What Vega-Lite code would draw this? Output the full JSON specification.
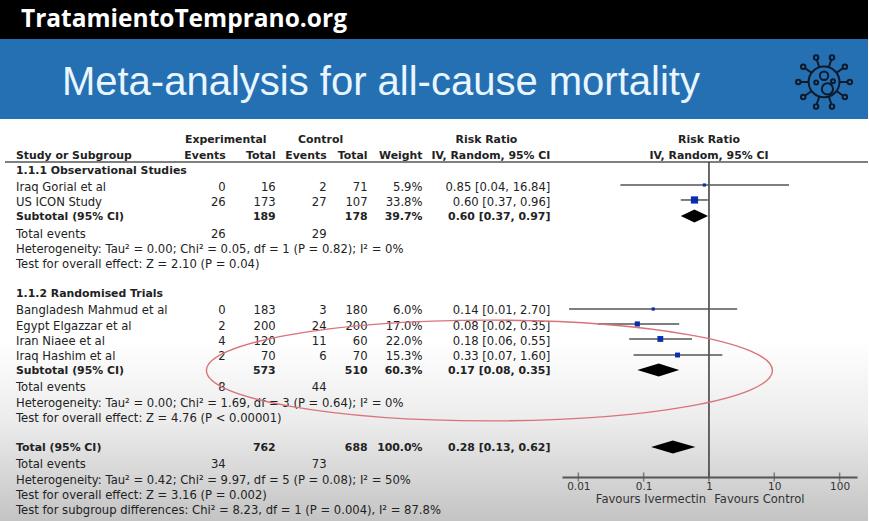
{
"$schema":"https://vega.github.io/schema/vega-lite/v6.json",
"width":869,"height":521,"padding":0,
"autosize":{"type":"fit","contains":"padding"},
"background":"white",
"config":{"view":{"stroke":null},"text":{"font":"DejaVu Sans","fontSize":11.6,"color":"#222","dy":1}},
"datasets":{
"rows":[
{"row":-0.96,"label":"Study or Subgroup","ev_e":"Events","tot_e":"Total","ev_c":"Events","tot_c":"Total","weight":"Weight","rr":"IV, Random, 95% CI","bold":true},
{"row":0,"label":"1.1.1 Observational Studies","ev_e":"","tot_e":"","ev_c":"","tot_c":"","weight":"","rr":"","bold":true},
{"row":1.09,"label":"Iraq Gorial et al","ev_e":"0","tot_e":"16","ev_c":"2","tot_c":"71","weight":"5.9%","rr":"0.85 [0.04, 16.84]","bold":false},
{"row":2.05,"label":"US ICON Study","ev_e":"26","tot_e":"173","ev_c":"27","tot_c":"107","weight":"33.8%","rr":"0.60 [0.37, 0.96]","bold":false},
{"row":2.95,"label":"Subtotal (95% CI)","ev_e":"","tot_e":"189","ev_c":"","tot_c":"178","weight":"39.7%","rr":"0.60 [0.37, 0.97]","bold":true},
{"row":4.07,"label":"Total events","ev_e":"26","tot_e":"","ev_c":"29","tot_c":"","weight":"","rr":"","bold":false},
{"row":5.06,"label":"Heterogeneity: Tau² = 0.00; Chi² = 0.05, df = 1 (P = 0.82); I² = 0%","ev_e":"","tot_e":"","ev_c":"","tot_c":"","weight":"","rr":"","bold":false},
{"row":6.03,"label":"Test for overall effect: Z = 2.10 (P = 0.04)","ev_e":"","tot_e":"","ev_c":"","tot_c":"","weight":"","rr":"","bold":false},
{"row":7.88,"label":"1.1.2 Randomised Trials","ev_e":"","tot_e":"","ev_c":"","tot_c":"","weight":"","rr":"","bold":true},
{"row":8.97,"label":"Bangladesh Mahmud et al","ev_e":"0","tot_e":"183","ev_c":"3","tot_c":"180","weight":"6.0%","rr":"0.14 [0.01, 2.70]","bold":false},
{"row":9.97,"label":"Egypt Elgazzar et al","ev_e":"2","tot_e":"200","ev_c":"24","tot_c":"200","weight":"17.0%","rr":"0.08 [0.02, 0.35]","bold":false},
{"row":10.96,"label":"Iran Niaee et al","ev_e":"4","tot_e":"120","ev_c":"11","tot_c":"60","weight":"22.0%","rr":"0.18 [0.06, 0.55]","bold":false},
{"row":11.92,"label":"Iraq Hashim et al","ev_e":"2","tot_e":"70","ev_c":"6","tot_c":"70","weight":"15.3%","rr":"0.33 [0.07, 1.60]","bold":false},
{"row":12.79,"label":"Subtotal (95% CI)","ev_e":"","tot_e":"573","ev_c":"","tot_c":"510","weight":"60.3%","rr":"0.17 [0.08, 0.35]","bold":true},
{"row":13.91,"label":"Total events","ev_e":"8","tot_e":"","ev_c":"44","tot_c":"","weight":"","rr":"","bold":false},
{"row":14.94,"label":"Heterogeneity: Tau² = 0.00; Chi² = 1.69, df = 3 (P = 0.64); I² = 0%","ev_e":"","tot_e":"","ev_c":"","tot_c":"","weight":"","rr":"","bold":false},
{"row":15.9,"label":"Test for overall effect: Z = 4.76 (P < 0.00001)","ev_e":"","tot_e":"","ev_c":"","tot_c":"","weight":"","rr":"","bold":false},
{"row":17.76,"label":"Total (95% CI)","ev_e":"","tot_e":"762","ev_c":"","tot_c":"688","weight":"100.0%","rr":"0.28 [0.13, 0.62]","bold":true},
{"row":18.85,"label":"Total events","ev_e":"34","tot_e":"","ev_c":"73","tot_c":"","weight":"","rr":"","bold":false},
{"row":19.87,"label":"Heterogeneity: Tau² = 0.42; Chi² = 9.97, df = 5 (P = 0.08); I² = 50%","ev_e":"","tot_e":"","ev_c":"","tot_c":"","weight":"","rr":"","bold":false},
{"row":20.83,"label":"Test for overall effect: Z = 3.16 (P = 0.002)","ev_e":"","tot_e":"","ev_c":"","tot_c":"","weight":"","rr":"","bold":false},
{"row":21.79,"label":"Test for subgroup differences: Chi² = 8.23, df = 1 (P = 0.004), I² = 87.8%","ev_e":"","tot_e":"","ev_c":"","tot_c":"","weight":"","rr":"","bold":false}
],
"studies":[
{"study":"Iraq Gorial et al","row":0.96,"est":0.85,"lo":0.044,"hi":16.84,"wt":5.9},
{"study":"US ICON Study","row":1.92,"est":0.60,"lo":0.37,"hi":0.96,"wt":33.8},
{"study":"Bangladesh Mahmud et al","row":8.91,"est":0.14,"lo":0.0072,"hi":2.70,"wt":6.0},
{"study":"Egypt Elgazzar et al","row":9.87,"est":0.08,"lo":0.02,"hi":0.35,"wt":17.0},
{"study":"Iran Niaee et al","row":10.83,"est":0.18,"lo":0.06,"hi":0.55,"wt":22.0},
{"study":"Iraq Hashim et al","row":11.86,"est":0.33,"lo":0.07,"hi":1.60,"wt":15.3}
],
"diamonds":[
{"group":"Observational","rr":0.37,"top":2.95,"bottom":2.95},
{"group":"Observational","rr":0.60,"top":2.53,"bottom":3.37},
{"group":"Observational","rr":0.97,"top":2.95,"bottom":2.95},
{"group":"Randomised","rr":0.08,"top":12.82,"bottom":12.82},
{"group":"Randomised","rr":0.17,"top":12.4,"bottom":13.24},
{"group":"Randomised","rr":0.35,"top":12.82,"bottom":12.82},
{"group":"Total","rr":0.13,"top":17.76,"bottom":17.76},
{"group":"Total","rr":0.28,"top":17.34,"bottom":18.18},
{"group":"Total","rr":0.62,"top":17.76,"bottom":17.76}
],
"axisTicks":[{"rr":0.01},{"rr":0.1},{"rr":1},{"rr":10},{"rr":100}]
},
"layer":[
{"layer":[
{"data":{"values":[{"a":1}]},"mark":{"type":"rect","color":{"gradient":"linear","x1":0,"y1":0,"x2":0,"y2":1,"stops":[{"offset":0,"color":"#ffffff"},{"offset":0.55,"color":"#ffffff"},{"offset":0.75,"color":"#ececec"},{"offset":1,"color":"#c4c4c4"}]}},
"encoding":{"x":{"datum":0,"type":"quantitative","scale":{"domain":[0,869]},"axis":null},"x2":{"datum":869},"y":{"datum":-3.2,"type":"quantitative","scale":{"domain":[-10.9,22.5],"reverse":true},"axis":null},"y2":{"datum":22.5}}},
{"data":{"values":[{"a":1}]},"mark":{"type":"rect","color":"#000000"},
"encoding":{"x":{"datum":0,"type":"quantitative","scale":{"domain":[0,869]},"axis":null},"x2":{"datum":869},"y":{"datum":-10.9,"type":"quantitative","scale":{"domain":[-10.9,22.5],"reverse":true},"axis":null},"y2":{"datum":-8.40}}},
{"data":{"values":[{"a":1}]},"mark":{"type":"rect","color":"#2470b3"},
"encoding":{"x":{"datum":0,"type":"quantitative","scale":{"domain":[0,869]},"axis":null},"x2":{"datum":869},"y":{"datum":-8.40,"type":"quantitative","scale":{"domain":[-10.9,22.5],"reverse":true},"axis":null},"y2":{"datum":-3.27}}},
{"data":{"values":[{"a":1}]},"mark":{"type":"rule","color":"#555555","strokeWidth":1.5},
"encoding":{"x":{"datum":5,"type":"quantitative","scale":{"domain":[0,869]},"axis":null},"x2":{"datum":869},"y":{"datum":-0.51,"type":"quantitative","scale":{"domain":[-10.9,22.5],"reverse":true},"axis":null}}}
]},
{"layer":[
{"data":{"values":[{"a":1}]},"mark":{"type":"rule","color":"#444444","strokeWidth":1.6},
"encoding":{"x":{"datum":1,"type":"quantitative","scale":{"type":"log","domain":[0.00562,184.7],"range":[562,857],"nice":false},"axis":{"values":[0.01,0.1,1,10,100],"format":"~g","orient":"bottom","offset":-44,"title":null,"grid":false,"zindex":1,"ticks":false,"labelFont":"DejaVu Sans","labelFontSize":10.5,"labelColor":"#333333","labelPadding":4,"domainColor":"#555555","domainWidth":2}},"y":{"datum":-0.51,"type":"quantitative","scale":{"domain":[-10.9,22.5],"reverse":true},"axis":null},"y2":{"datum":19.68}}},
{"data":{"name":"axisTicks"},"mark":{"type":"tick","orient":"vertical","color":"#555555","size":9,"thickness":1.5},
"encoding":{"x":{"field":"rr","type":"quantitative"},"y":{"datum":19.68,"type":"quantitative","scale":{"domain":[-10.9,22.5],"reverse":true},"axis":null}}},
{"data":{"name":"studies"},"mark":{"type":"rule","color":"#555555","strokeWidth":1.5},
"encoding":{"x":{"field":"lo","type":"quantitative"},"x2":{"field":"hi"},"y":{"field":"row","type":"quantitative","scale":{"domain":[-10.9,22.5],"reverse":true},"axis":null}}},
{"data":{"name":"studies"},"mark":{"type":"point","shape":"square","filled":true,"color":"#0a2db0","opacity":1},
"encoding":{"x":{"field":"est","type":"quantitative"},"y":{"field":"row","type":"quantitative","scale":{"domain":[-10.9,22.5],"reverse":true},"axis":null},"size":{"field":"wt","type":"quantitative","scale":{"domain":[5.9,33.8],"range":[10,52]},"legend":null}}},
{"data":{"name":"diamonds"},"mark":{"type":"area","color":"#000000","opacity":1},
"encoding":{"x":{"field":"rr","type":"quantitative"},"y":{"field":"top","type":"quantitative","scale":{"domain":[-10.9,22.5],"reverse":true},"axis":null},"y2":{"field":"bottom"},"detail":{"field":"group"}}},
{"data":{"values":[{"row":-2,"label":"Risk Ratio"},{"row":-0.96,"label":"IV, Random, 95% CI"}]},"mark":{"type":"text","align":"center","fontWeight":"bold","fontSize":10.9},
"encoding":{"x":{"datum":1,"type":"quantitative"},"y":{"field":"row","type":"quantitative","scale":{"domain":[-10.9,22.5],"reverse":true},"axis":null},"text":{"field":"label"}}}
]},
{"data":{"name":"rows"},
"encoding":{"y":{"field":"row","type":"quantitative","scale":{"domain":[-10.9,22.5],"reverse":true},"axis":null}},
"layer":[
{"transform":[{"filter":"!datum.bold"}],"mark":{"type":"text","align":"left"},"encoding":{"x":{"datum":16,"type":"quantitative","scale":{"domain":[0,869]},"axis":null},"text":{"field":"label"}}},
{"transform":[{"filter":"!datum.bold"}],"mark":{"type":"text","align":"right"},"encoding":{"x":{"datum":226,"type":"quantitative","scale":{"domain":[0,869]},"axis":null},"text":{"field":"ev_e"}}},
{"transform":[{"filter":"!datum.bold"}],"mark":{"type":"text","align":"right"},"encoding":{"x":{"datum":276,"type":"quantitative","scale":{"domain":[0,869]},"axis":null},"text":{"field":"tot_e"}}},
{"transform":[{"filter":"!datum.bold"}],"mark":{"type":"text","align":"right"},"encoding":{"x":{"datum":327,"type":"quantitative","scale":{"domain":[0,869]},"axis":null},"text":{"field":"ev_c"}}},
{"transform":[{"filter":"!datum.bold"}],"mark":{"type":"text","align":"right"},"encoding":{"x":{"datum":368,"type":"quantitative","scale":{"domain":[0,869]},"axis":null},"text":{"field":"tot_c"}}},
{"transform":[{"filter":"!datum.bold"}],"mark":{"type":"text","align":"right"},"encoding":{"x":{"datum":423,"type":"quantitative","scale":{"domain":[0,869]},"axis":null},"text":{"field":"weight"}}},
{"transform":[{"filter":"!datum.bold"}],"mark":{"type":"text","align":"right"},"encoding":{"x":{"datum":551,"type":"quantitative","scale":{"domain":[0,869]},"axis":null},"text":{"field":"rr"}}},
{"transform":[{"filter":"datum.bold"}],"mark":{"type":"text","align":"left","fontWeight":"bold","fontSize":10.9},"encoding":{"x":{"datum":16,"type":"quantitative","scale":{"domain":[0,869]},"axis":null},"text":{"field":"label"}}},
{"transform":[{"filter":"datum.bold"}],"mark":{"type":"text","align":"right","fontWeight":"bold","fontSize":10.9},"encoding":{"x":{"datum":226,"type":"quantitative","scale":{"domain":[0,869]},"axis":null},"text":{"field":"ev_e"}}},
{"transform":[{"filter":"datum.bold"}],"mark":{"type":"text","align":"right","fontWeight":"bold","fontSize":10.9},"encoding":{"x":{"datum":276,"type":"quantitative","scale":{"domain":[0,869]},"axis":null},"text":{"field":"tot_e"}}},
{"transform":[{"filter":"datum.bold"}],"mark":{"type":"text","align":"right","fontWeight":"bold","fontSize":10.9},"encoding":{"x":{"datum":327,"type":"quantitative","scale":{"domain":[0,869]},"axis":null},"text":{"field":"ev_c"}}},
{"transform":[{"filter":"datum.bold"}],"mark":{"type":"text","align":"right","fontWeight":"bold","fontSize":10.9},"encoding":{"x":{"datum":368,"type":"quantitative","scale":{"domain":[0,869]},"axis":null},"text":{"field":"tot_c"}}},
{"transform":[{"filter":"datum.bold"}],"mark":{"type":"text","align":"right","fontWeight":"bold","fontSize":10.9},"encoding":{"x":{"datum":423,"type":"quantitative","scale":{"domain":[0,869]},"axis":null},"text":{"field":"weight"}}},
{"transform":[{"filter":"datum.bold"}],"mark":{"type":"text","align":"right","fontWeight":"bold","fontSize":10.9},"encoding":{"x":{"datum":551,"type":"quantitative","scale":{"domain":[0,869]},"axis":null},"text":{"field":"rr"}}},
{"data":{"values":[{"row":-2,"label":"Experimental"}]},"mark":{"type":"text","align":"center","fontWeight":"bold","fontSize":10.9},"encoding":{"x":{"datum":226,"type":"quantitative","scale":{"domain":[0,869]},"axis":null},"text":{"field":"label"}}},
{"data":{"values":[{"row":-2,"label":"Control"}]},"mark":{"type":"text","align":"center","fontWeight":"bold","fontSize":10.9},"encoding":{"x":{"datum":321,"type":"quantitative","scale":{"domain":[0,869]},"axis":null},"text":{"field":"label"}}},
{"data":{"values":[{"row":-2,"label":"Risk Ratio"}]},"mark":{"type":"text","align":"center","fontWeight":"bold","fontSize":10.9},"encoding":{"x":{"datum":487,"type":"quantitative","scale":{"domain":[0,869]},"axis":null},"text":{"field":"label"}}},
{"data":{"values":[{"row":21.1,"label":"Favours Ivermectin"}]},"mark":{"type":"text","align":"right","color":"#333333","fontSize":11.6},"encoding":{"x":{"datum":707,"type":"quantitative","scale":{"domain":[0,869]},"axis":null},"text":{"field":"label"}}},
{"data":{"values":[{"row":21.1,"label":"Favours Control"}]},"mark":{"type":"text","align":"left","color":"#333333","fontSize":11.6},"encoding":{"x":{"datum":715,"type":"quantitative","scale":{"domain":[0,869]},"axis":null},"text":{"field":"label"}}},
{"data":{"values":[{"row":-9.65,"label":"TratamientoTemprano.org"}]},"mark":{"type":"text","align":"left","font":"Open Sans","fontWeight":"bold","fontSize":24.5,"color":"#ffffff"},"encoding":{"x":{"datum":21,"type":"quantitative","scale":{"domain":[0,869]},"axis":null},"text":{"field":"label"}}},
{"data":{"values":[{"row":-5.65,"label":"Meta-analysis for all-cause mortality"}]},"mark":{"type":"text","align":"left","font":"Liberation Sans","fontSize":40,"color":"#e9f6ff"},"encoding":{"x":{"datum":62,"type":"quantitative","scale":{"domain":[0,869]},"axis":null},"text":{"field":"label"}}},
{"data":{"values":[{"row":12.85,"note":"highlight"}]},"mark":{"type":"point","filled":false,"opacity":1,"color":"#d9737a","strokeWidth":1.4,"size":320356,"shape":"M -1 0 A 1 0.178 0 1 1 1 0 A 1 0.178 0 1 1 -1 0 Z"},"encoding":{"x":{"datum":490,"type":"quantitative","scale":{"domain":[0,869]},"axis":null}}},
{"data":{"values":[{"row":-5.65,"note":"virus icon"}]},"mark":{"type":"point","filled":false,"opacity":1,"color":"#0c1a2b","strokeWidth":2,"size":3136,"shape":"M -0.55 0 A 0.55 0.55 0 1 1 0.55 0 A 0.55 0.55 0 1 1 -0.55 0 Z M 0.55 0 L 0.84 0 M 0.445 0.323 L 0.68 0.494 M 0.17 0.523 L 0.26 0.799 M -0.17 0.523 L -0.26 0.799 M -0.445 0.323 L -0.68 0.494 M -0.55 0 L -0.84 0 M -0.445 -0.323 L -0.68 -0.494 M -0.17 -0.523 L -0.26 -0.799 M 0.17 -0.523 L 0.26 -0.799 M 0.445 -0.323 L 0.68 -0.494 M 0.84 0 A 0.08 0.08 0 1 1 1 0 A 0.08 0.08 0 1 1 0.84 0 Z M 0.664 0.541 A 0.08 0.08 0 1 1 0.824 0.541 A 0.08 0.08 0 1 1 0.664 0.541 Z M 0.204 0.875 A 0.08 0.08 0 1 1 0.364 0.875 A 0.08 0.08 0 1 1 0.204 0.875 Z M -0.364 0.875 A 0.08 0.08 0 1 1 -0.204 0.875 A 0.08 0.08 0 1 1 -0.364 0.875 Z M -0.824 0.541 A 0.08 0.08 0 1 1 -0.664 0.541 A 0.08 0.08 0 1 1 -0.824 0.541 Z M -1 0 A 0.08 0.08 0 1 1 -0.84 0 A 0.08 0.08 0 1 1 -1 0 Z M -0.824 -0.541 A 0.08 0.08 0 1 1 -0.664 -0.541 A 0.08 0.08 0 1 1 -0.824 -0.541 Z M -0.364 -0.875 A 0.08 0.08 0 1 1 -0.204 -0.875 A 0.08 0.08 0 1 1 -0.364 -0.875 Z M 0.204 -0.875 A 0.08 0.08 0 1 1 0.364 -0.875 A 0.08 0.08 0 1 1 0.204 -0.875 Z M 0.664 -0.541 A 0.08 0.08 0 1 1 0.824 -0.541 A 0.08 0.08 0 1 1 0.664 -0.541 Z M -0.15 -0.22 A 0.15 0.15 0 1 1 0.15 -0.22 A 0.15 0.15 0 1 1 -0.15 -0.22 Z M -0.08 0.25 A 0.2 0.2 0 1 1 0.32 0.25 A 0.2 0.2 0 1 1 -0.08 0.25 Z M -0.35 0.02 A 0.07 0.07 0 1 1 -0.21 0.02 A 0.07 0.07 0 1 1 -0.35 0.02 Z M 0.25 -0.02 A 0.07 0.07 0 1 1 0.39 -0.02 A 0.07 0.07 0 1 1 0.25 -0.02 Z"},"encoding":{"x":{"datum":825,"type":"quantitative","scale":{"domain":[0,869]},"axis":null}}}
]}
],
"resolve":{"scale":{"x":"independent"}}
}
